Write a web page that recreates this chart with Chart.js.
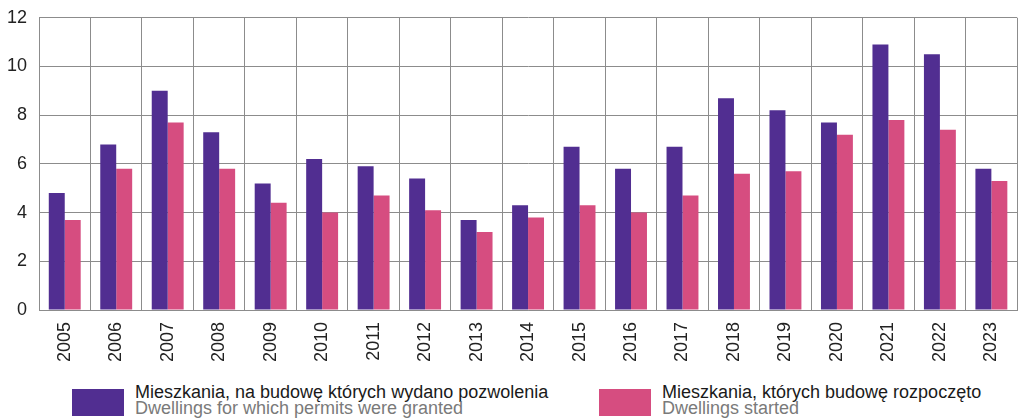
<!DOCTYPE html>
<html>
<head>
<meta charset="utf-8">
<script src="https://cdn.jsdelivr.net/npm/chart.js@4/dist/chart.umd.min.js"></script>
<style>
  html, body { margin: 0; padding: 0; background: #fff; }
  #wrap { position: relative; width: 1025px; height: 420px; overflow: hidden; font-family: "Liberation Sans", Arial, sans-serif; }
  #box { position: absolute; left: 0; top: -5px; width: 1025px; height: 377px; }
  .leg { position: absolute; top: 377px; }
  .sw { position: absolute; top: 12px; width: 52px; height: 27px; }
  .t1 { position: absolute; top: 7px; white-space: nowrap; font-size: 18px; color: #1a1a1a; line-height: 16px; }
  .t2 { position: absolute; top: 23px; white-space: nowrap; font-size: 18px; color: #7a7a7a; line-height: 16px; }
</style>
</head>
<body>
<div id="wrap">
  <div id="box"><canvas id="chart"></canvas></div>
  <div id="legend"></div>
</div>
<script>
const years = ["2005","2006","2007","2008","2009","2010","2011","2012","2013","2014",
               "2015","2016","2017","2018","2019","2020","2021","2022","2023"];
const permits = [4.8, 6.8, 9.0, 7.3, 5.2, 6.2, 5.9, 5.4, 3.7, 4.3, 6.7, 5.8, 6.7, 8.7, 8.2, 7.7, 10.9, 10.5, 5.8];
const started = [3.7, 5.8, 7.7, 5.8, 4.4, 4.0, 4.7, 4.1, 3.2, 3.8, 4.3, 4.0, 4.7, 5.6, 5.7, 7.2, 7.8, 7.4, 5.3];
const yTicks = [0, 2, 4, 6, 8, 10, 12];

const labelsPl = ["Mieszkania, na budowę których wydano pozwolenia", "Mieszkania, których budowę rozpoczęto"];
const labelsEn = ["Dwellings for which permits were granted", "Dwellings started"];
const colors = ["#512e91", "#d64d80"];

const gridColor = "#8c8c8c";
const font = { family: "'Liberation Sans', Arial, sans-serif", size: 18 };

const ctx = document.getElementById("chart").getContext("2d");
const chart = new Chart(ctx, {
    type: 'bar',
    data: {
        labels: years,
        datasets: [
            { label: labelsPl[0], data: permits, backgroundColor: colors[0] },
            { label: labelsPl[1], data: started, backgroundColor: colors[1] },
        ],
    },
    options: {
        responsive: true,
        maintainAspectRatio: false,
        animation: false,
        categoryPercentage: 0.62,
        barPercentage: 1.0,
        layout: { padding: { top: 2, right: 1, left: 0, bottom: 0 } },
        plugins: {
            legend: { display: false },
            tooltip: { enabled: false },
        },
        scales: {
            x: {
                grid: { color: gridColor, lineWidth: 1, drawTicks: false, offset: true },
                border: { color: gridColor },
                ticks: { color: "#222", font, minRotation: 90, maxRotation: 90, padding: 12 },
                afterFit: (s) => { s.height = 62; },
            },
            y: {
                min: 0, max: 12,
                afterBuildTicks: (s) => { s.ticks = yTicks.map(v => ({ value: v })); },
                grid: { color: gridColor, lineWidth: 1, drawTicks: false },
                border: { color: gridColor },
                ticks: { color: "#222", font, padding: 12 },
                afterFit: (s) => { s.width = 39; },
            },
        },
    },
});

// legend below the chart, two lines each
const legend = document.getElementById("legend");
const legX = [72, 599];
labelsPl.forEach((t, i) => {
    const d = document.createElement("div");
    d.className = "leg";
    d.style.left = legX[i] + "px";
    d.innerHTML = '<div class="sw" style="background:' + colors[i] + '"></div>' +
        '<div class="t1" style="left:63px">' + t + '</div>' +
        '<div class="t2" style="left:63px">' + labelsEn[i] + '</div>';
    legend.appendChild(d);
});
</script>
</body>
</html>
